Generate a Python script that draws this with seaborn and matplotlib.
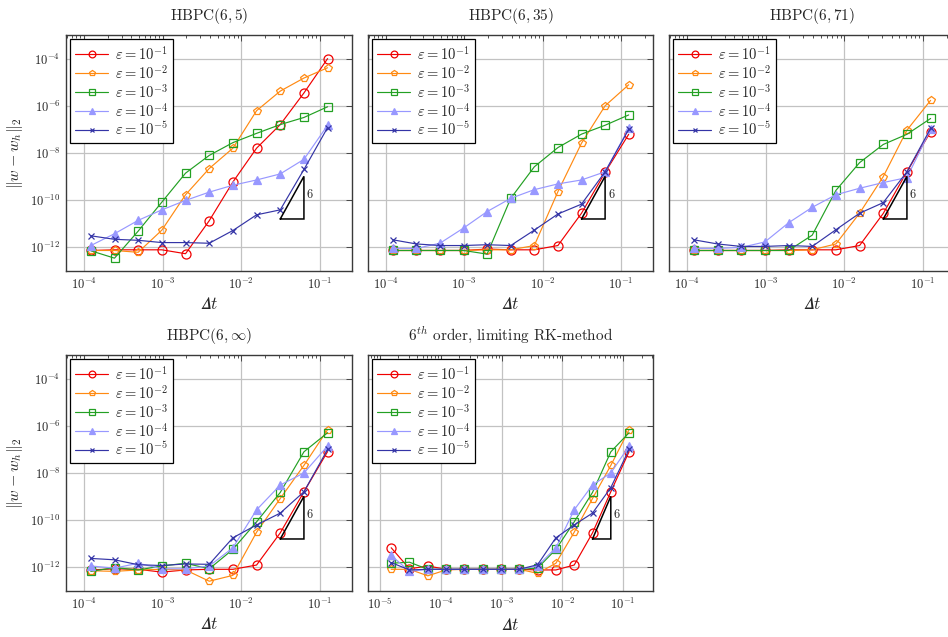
import numpy as np
import pandas as pd
import matplotlib
matplotlib.use("Agg")
import matplotlib.pyplot as plt
from matplotlib.ticker import LogLocator, FixedLocator, NullLocator, NullFormatter, LogFormatterSciNotation
import seaborn as sns

# ---------------------------------------------------------------- data
# time step sizes
dt_hbpc = [0.125, 0.0625, 0.03125, 0.015625, 0.0078125, 0.00390625,
           0.001953125, 0.0009765625, 0.00048828125, 0.000244140625,
           0.0001220703125]
dt_rk = dt_hbpc + [6.103515625e-05, 3.0517578125e-05, 1.52587890625e-05]

eps_labels = [r"$\varepsilon = 10^{-1}$", r"$\varepsilon = 10^{-2}$",
              r"$\varepsilon = 10^{-3}$", r"$\varepsilon = 10^{-4}$",
              r"$\varepsilon = 10^{-5}$"]

# errors ||w - w_h||_2, one list per epsilon (ordered as dt lists)
hbpc_6_5 = [
    [1.0e-4, 3.5e-6, 1.6e-7, 1.6e-8, 5.9e-10, 1.35e-11, 5.4e-13, 7.9e-13, 7.9e-13, 7.9e-13, 7.4e-13],
    [4.1e-5, 1.5e-5, 4.2e-6, 6.2e-7, 1.6e-8, 2.2e-9, 1.7e-10, 5.4e-12, 6.2e-13, 7.4e-13, 7.4e-13],
    [9.1e-7, 3.2e-7, 1.6e-7, 6.8e-8, 2.75e-8, 7.9e-9, 1.4e-9, 8.3e-11, 4.9e-12, 3.5e-13, 7.2e-13],
    [1.5e-7, 5.4e-9, 1.3e-9, 7.2e-10, 4.3e-10, 2.2e-10, 9.8e-11, 3.9e-11, 1.4e-11, 3.8e-12, 1.2e-12],
    [1.2e-7, 2.0e-9, 3.9e-11, 2.4e-11, 5.2e-12, 1.5e-12, 1.6e-12, 1.6e-12, 2.0e-12, 2.2e-12, 3.1e-12],
]
hbpc_6_35 = [
    [6.2e-8, 1.5e-9, 2.8e-11, 1.2e-12, 7.9e-13, 7.9e-13, 8.5e-13, 7.4e-13, 7.4e-13, 7.4e-13, 7.4e-13],
    [7.8e-6, 1.0e-6, 2.6e-8, 2.3e-10, 1.2e-12, 7.9e-13, 7.9e-13, 7.4e-13, 7.4e-13, 7.4e-13, 7.4e-13],
    [4.1e-7, 1.5e-7, 6.3e-8, 1.7e-8, 2.6e-9, 1.2e-10, 5.2e-13, 7.4e-13, 7.4e-13, 7.4e-13, 7.4e-13],
    [1.1e-7, 1.6e-9, 7.2e-10, 4.9e-10, 2.8e-10, 1.2e-10, 3.3e-11, 6.6e-12, 1.5e-12, 9.1e-13, 9.1e-13],
    [1.0e-7, 1.6e-9, 6.8e-11, 2.6e-11, 5.4e-12, 1.2e-12, 1.3e-12, 1.2e-12, 1.2e-12, 1.4e-12, 2.1e-12],
]
hbpc_6_71 = [
    [7.9e-8, 1.6e-9, 2.75e-11, 1.2e-12, 7.9e-13, 7.9e-13, 7.9e-13, 7.4e-13, 7.4e-13, 7.4e-13, 7.4e-13],
    [1.7e-6, 9.3e-8, 1.0e-9, 2.8e-11, 1.4e-12, 7.9e-13, 7.4e-13, 7.4e-13, 7.4e-13, 7.4e-13, 7.4e-13],
    [2.9e-7, 6.2e-8, 2.3e-8, 3.9e-9, 2.6e-10, 3.3e-12, 7.4e-13, 7.4e-13, 7.4e-13, 7.4e-13, 7.4e-13],
    [1.0e-7, 9.1e-10, 5.6e-10, 3.2e-10, 1.7e-10, 5.0e-11, 1.1e-11, 1.7e-12, 1.0e-12, 9.1e-13, 9.1e-13],
    [1.1e-7, 1.6e-9, 7.9e-11, 2.8e-11, 5.6e-12, 1.1e-12, 1.2e-12, 1.1e-12, 1.1e-12, 1.4e-12, 2.1e-12],
]
hbpc_6_inf = [
    [8.1e-8, 1.6e-9, 2.9e-11, 1.26e-12, 8.3e-13, 8.3e-13, 7.8e-13, 6.3e-13, 8.3e-13, 8.7e-13, 7.8e-13],
    [6.9e-7, 2.1e-8, 8.3e-10, 3.1e-11, 4.6e-13, 2.6e-13, 7.8e-13, 8.3e-13, 7.8e-13, 6.8e-13, 7.2e-13],
    [5.1e-7, 7.9e-8, 1.5e-9, 8.5e-11, 5.8e-12, 8.7e-13, 1.5e-12, 1.15e-12, 7.8e-13, 9.8e-13, 6.8e-13],
    [1.4e-7, 1.0e-8, 3.1e-9, 2.75e-10, 6.8e-12, 1.15e-12, 8.7e-13, 8.7e-13, 1.5e-12, 9.3e-13, 1.15e-12],
    [1.0e-7, 1.6e-9, 2.0e-10, 6.3e-11, 1.8e-11, 1.35e-12, 1.4e-12, 1.2e-12, 1.3e-12, 2.1e-12, 2.4e-12],
]
rk_6 = [
    [8.1e-8, 1.6e-9, 2.9e-11, 1.26e-12, 7.8e-13, 7.8e-13, 8.3e-13, 8.3e-13, 8.3e-13, 8.3e-13, 8.3e-13, 1.15e-12, 8.7e-13, 6.8e-12],
    [6.9e-7, 2.1e-8, 8.3e-10, 3.1e-11, 1.5e-12, 5.6e-13, 8.3e-13, 8.3e-13, 8.3e-13, 8.3e-13, 7.8e-13, 4.4e-13, 8.3e-13, 8.3e-13],
    [5.1e-7, 7.9e-8, 1.5e-9, 8.5e-11, 5.8e-12, 9.3e-13, 8.3e-13, 8.3e-13, 8.3e-13, 8.3e-13, 8.3e-13, 8.3e-13, 1.66e-12, 1.5e-12],
    [1.4e-7, 1.0e-8, 3.1e-9, 2.75e-10, 6.8e-12, 1.15e-12, 8.3e-13, 8.3e-13, 8.3e-13, 8.3e-13, 8.3e-13, 8.3e-13, 6.8e-13, 3.2e-12],
    [1.0e-7, 2.4e-9, 2.0e-10, 6.3e-11, 1.8e-11, 1.3e-12, 8.3e-13, 8.3e-13, 8.3e-13, 8.3e-13, 8.3e-13, 8.3e-13, 7.8e-13, 1.6e-12],
]

titles = [r"HBPC$(6,5)$", r"HBPC$(6,35)$", r"HBPC$(6,71)$",
          r"HBPC$(6,\infty)$", r"$6^{th}$ order, limiting RK-method"]

# reference slope triangle: order 6 between these two step sizes
slope_dt = [0.03125, 0.0625]
slope_base = 1.6e-11
slope_order = 6

# ---------------------------------------------------------------- style
sns.set_theme(style="white")
plt.rcParams.update({
    "font.family": "serif",
    "font.serif": ["cmr10", "DejaVu Serif"],
    "mathtext.fontset": "cm",
    "axes.formatter.use_mathtext": True,
    "axes.unicode_minus": False,
})

colors = ["#f00000", "#ff8a12", "#23a023", "#9898ff", "#3434a6"]
markers = ["o", "p", "s", "^", "x"]
msizes = [6.5, 5.5, 6.0, 5.5, 4.5]
filled = [False, False, False, True, True]

W, H = 948, 637
fig = plt.figure(figsize=(W / 100, H / 100), dpi=100)


def frac(x0, y0, x1, y1):
    return [x0 / W, 1 - y1 / H, (x1 - x0) / W, (y1 - y0) / H]


positions = [frac(66, 35, 352, 271), frac(368, 35, 653, 271),
             frac(669, 35, 955, 271), frac(66, 355, 352, 591),
             frac(368, 355, 653, 591)]
xlims = [(10 ** -4.229, 10 ** -0.593)] * 4 + [(10 ** -5.198, 10 ** -0.51)]
datasets = [hbpc_6_5, hbpc_6_35, hbpc_6_71, hbpc_6_inf, rk_6]
dts = [dt_hbpc] * 4 + [dt_rk]

for i, (pos, data, dt, title) in enumerate(zip(positions, datasets, dts, titles)):
    ax = fig.add_axes(pos)
    ax.set_xscale("log")
    ax.set_yscale("log")
    ax.set_axisbelow(True)
    ax.grid(True, which="major", color="#c2c2c2", linewidth=0.9)

    for j, errs in enumerate(data):
        df = pd.DataFrame({"dt": dt, "err": errs})
        sns.lineplot(data=df, x="dt", y="err", ax=ax, color=colors[j],
                     marker=markers[j], markersize=msizes[j],
                     markerfacecolor=colors[j] if filled[j] else "none",
                     markeredgecolor=colors[j], markeredgewidth=0.9,
                     linewidth=0.85, label=eps_labels[j], zorder=3 + j)

    # slope triangle
    x0, x1 = slope_dt
    y0 = slope_base
    y1 = slope_base * (x1 / x0) ** slope_order
    ax.plot([x0, x1, x1, x0], [y0, y1, y0, y0], color="black",
            linewidth=1.1, zorder=10, solid_joinstyle="miter")
    ax.text(x1 * 1.09, np.sqrt(y0 * y1) * 1.3, str(slope_order), fontsize=9,
            ha="left", va="center", zorder=11)

    ax.set_xlim(*xlims[i])
    ax.set_ylim(1e-13, 1e-3)
    ax.xaxis.set_major_locator(LogLocator(base=10, numticks=20))
    ax.xaxis.set_minor_locator(LogLocator(base=10, subs=np.arange(2, 10), numticks=20))
    ax.xaxis.set_minor_formatter(NullFormatter())
    ax.xaxis.set_major_formatter(LogFormatterSciNotation())
    ax.yaxis.set_major_locator(FixedLocator([1e-12, 1e-10, 1e-8, 1e-6, 1e-4]))
    ax.yaxis.set_minor_locator(NullLocator())
    ax.yaxis.set_major_formatter(LogFormatterSciNotation())
    ax.tick_params(which="both", direction="in", top=True, right=True,
                   color="#333333", width=0.6, labelsize=9, pad=4)
    ax.tick_params(which="major", length=4)
    ax.tick_params(which="minor", length=2.5)
    for sp in ax.spines.values():
        sp.set_color("#3a3a3a")
        sp.set_linewidth(1.0)

    if i in (0, 3):
        ax.set_ylabel(r"$\Vert w - w_h\Vert_2$", fontsize=11.5, labelpad=4)
    else:
        ax.set_ylabel("")
        ax.tick_params(axis="y", labelleft=False)
    ax.set_xlabel("$\U0001D6E5t$", fontsize=12.5, labelpad=3)
    ax.set_title(title, fontsize=11, pad=11)

    leg = ax.legend(loc="upper left", fontsize=10.5, frameon=True,
                    fancybox=False, framealpha=1, edgecolor="black",
                    handlelength=2.2, handletextpad=0.5, borderpad=0.35,
                    labelspacing=0.08, borderaxespad=0.3, markerscale=0.75)
    leg.get_frame().set_linewidth(0.9)

fig.savefig("out.png", dpi=100)
